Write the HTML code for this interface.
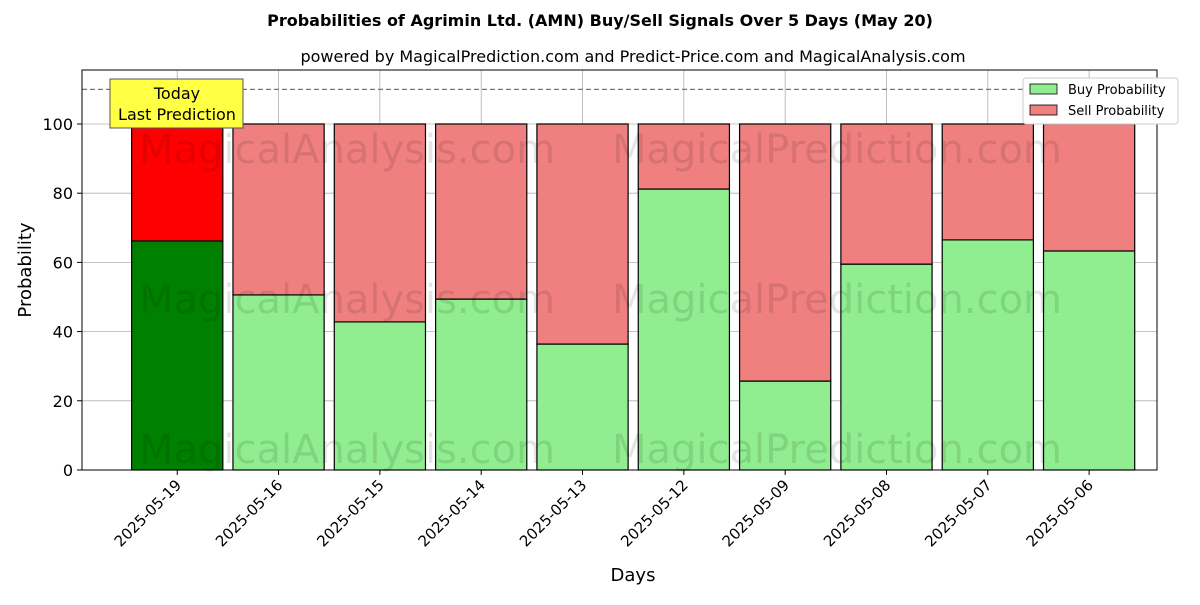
<!DOCTYPE html>
<html><head><meta charset="utf-8"><style>
body{margin:0;background:#fff;font-family:"Liberation Sans","DejaVu Sans",sans-serif}
</style></head><body>
<svg id="chart" width="1200" height="600" xmlns="http://www.w3.org/2000/svg" font-family="DejaVu Sans, Liberation Sans, sans-serif">
<text x="600" y="26" text-anchor="middle" font-size="16" font-weight="bold">Probabilities of Agrimin Ltd. (AMN) Buy/Sell Signals Over 5 Days (May 20)</text>
<text x="633" y="62" text-anchor="middle" font-size="16">powered by MagicalPrediction.com and Predict-Price.com and MagicalAnalysis.com</text>
<g id="grid"></g>
<g id="bars"></g>
<g font-size="40" fill="#000" opacity="0.1">
<text x="347" y="163" text-anchor="middle">MagicalAnalysis.com</text>
<text x="837" y="163" text-anchor="middle">MagicalPrediction.com</text>
<text x="347" y="313" text-anchor="middle">MagicalAnalysis.com</text>
<text x="837" y="313" text-anchor="middle">MagicalPrediction.com</text>
<text x="347" y="463" text-anchor="middle">MagicalAnalysis.com</text>
<text x="837" y="463" text-anchor="middle">MagicalPrediction.com</text>
</g>
<g id="axes"></g>
<g>
<rect x="110" y="79" width="133" height="49" fill="#ffff44" stroke="#555" stroke-width="1"/>
<text x="177" y="99" text-anchor="middle" font-size="16">Today</text>
<text x="177" y="120" text-anchor="middle" font-size="16">Last Prediction</text>
</g>
<g>
<rect x="1023" y="78" width="155" height="46" fill="#fff" stroke="#ccc" rx="3"/>
<rect x="1030" y="84" width="27" height="10" fill="#90ee90" stroke="#000" stroke-width="0.8"/>
<text x="1068" y="94" font-size="13">Buy Probability</text>
<rect x="1030" y="105" width="27" height="10" fill="#f08080" stroke="#000" stroke-width="0.8"/>
<text x="1068" y="115" font-size="13">Sell Probability</text>
</g>
<text x="633" y="581" text-anchor="middle" font-size="18">Days</text>
<text x="31" y="270" text-anchor="middle" font-size="18" transform="rotate(-90 31 270)">Probability</text>
</svg>
<script>
const categories=["2025-05-19","2025-05-16","2025-05-15","2025-05-14","2025-05-13","2025-05-12","2025-05-09","2025-05-08","2025-05-07","2025-05-06"];
const buyValues=[66.2,50.6,42.8,49.4,36.4,81.2,25.7,59.5,66.5,63.3];
const yTicks=[0,20,40,60,80,100];
const NS="http://www.w3.org/2000/svg";
const L=82,R=1157,T=70,B=470;
const yMin=0,yMax=115.6;
const xMin=-0.94,xMax=9.67;
const y=v=>B-(v-yMin)/(yMax-yMin)*(B-T);
const x=i=>L+(i-xMin)/(xMax-xMin)*(R-L);
const bw=0.9*(x(1)-x(0));
function mk(tag,attrs,parent){const e=document.createElementNS(NS,tag);for(const k in attrs)e.setAttribute(k,attrs[k]);parent.appendChild(e);return e;}
const grid=document.getElementById('grid'),bars=document.getElementById('bars'),axes=document.getElementById('axes');
yTicks.forEach(t=>{const l=mk('line',{x1:L,x2:R,y1:y(t),y2:y(t),stroke:'#b0b0b0','stroke-width':0.8},grid);

});
categories.forEach((c,i)=>{const l=mk('line',{x1:x(i),x2:x(i),y1:T,y2:B,stroke:'#b0b0b0','stroke-width':0.8},grid);

});
categories.forEach((c,i)=>{
const b=buyValues[i];const first=i===0;
const r1=mk('rect',{x:x(i)-bw/2,y:y(b),width:bw,height:y(0)-y(b),fill:first?'#008000':'#90ee90',stroke:'#000','stroke-width':1.2},bars);


const r2=mk('rect',{x:x(i)-bw/2,y:y(100),width:bw,height:y(b)-y(100),fill:first?'#ff0000':'#f08080',stroke:'#000','stroke-width':1.2},bars);


});
const dl=mk('line',{x1:L,x2:R,y1:y(110),y2:y(110),stroke:'#777','stroke-width':1.2,'stroke-dasharray':'5,3'},axes);


const fr=mk('rect',{x:L,y:T,width:R-L,height:B-T,fill:'none',stroke:'#000','stroke-width':1},axes);


yTicks.forEach(t=>{mk('line',{x1:L-5,x2:L,y1:y(t),y2:y(t),stroke:'#000'},axes);
const tx=mk('text',{x:L-9,y:y(t)+6,'text-anchor':'end','font-size':16},axes);tx.textContent=t;

});
categories.forEach((c,i)=>{mk('line',{x1:x(i),x2:x(i),y1:B,y2:B+5,stroke:'#000'},axes);
const tx=mk('text',{x:x(i)+5,y:B+16,'text-anchor':'end','font-size':15,transform:`rotate(-45 ${x(i)+5} ${B+16})`},axes);tx.textContent=c;

});
</script>
</body></html>
